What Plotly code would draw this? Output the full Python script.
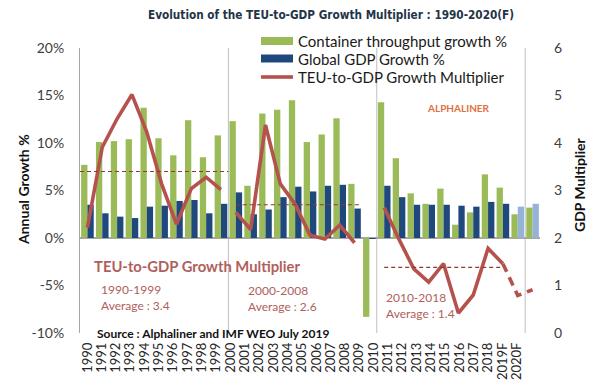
import plotly.graph_objects as go

# ---------------- data ----------------
years = ["1990", "1991", "1992", "1993", "1994", "1995", "1996", "1997", "1998", "1999",
         "2000", "2001", "2002", "2003", "2004", "2005", "2006", "2007", "2008", "2009",
         "2010", "2011", "2012", "2013", "2014", "2015", "2016", "2017", "2018", "2019F", "2020F"]

teu_growth = [7.7, 10.1, 10.2, 10.4, 13.7, 10.5, 8.7, 12.4, 8.5, 10.8,
              12.3, 5.5, 13.1, 13.5, 14.5, 10.1, 10.9, 12.6, 5.7, -8.3,
              14.3, 8.4, 4.7, 3.6, 5.2, 1.4, 2.7, 6.7, 5.3, 2.5, 3.2]

gdp_growth = [3.5, 2.6, 2.25, 2.1, 3.3, 3.4, 3.9, 4.0, 2.6, 3.6,
              4.8, 2.5, 3.0, 4.3, 5.4, 4.9, 5.5, 5.6, 3.1, -0.1,
              5.5, 4.3, 3.5, 3.5, 3.5, 3.4, 3.3, 3.8, 3.6, 3.3, 3.6]

multiplier = [2.22, 3.91, 4.51, 5.02, 4.23, 3.14, 2.29, 3.04, 3.28, 3.02,
              2.54, 2.18, 4.38, 3.14, 2.71, 2.06, 1.98, 2.27, 1.90, None,
              2.64, 1.97, 1.35, 1.07, 1.46, 0.42, 0.80, 1.78, 1.46, 0.79, 0.91]

periods = [("1990", "1999"), ("2000", "2008"), ("2010", "2018")]
period_avg_drawn = [3.4, 2.7, 1.38]
period_avg_label = ["3.4", "2.6", "1.4"]
forecast_segment = ("2018", "2020F")

left_ticks = [-10, -5, 0, 5, 10, 15, 20]
right_ticks = [0, 1, 2, 3, 4, 5, 6]

# ---------------- styles ----------------
GREEN = "#9bbb59"
DARK_BLUE = "#1f497d"
LIGHT_BLUE = "#95b3d7"
RED = "#b5524e"
AVG = "#8e3b36"
TXT_RED = "#b0605c"
FONT = "Lato, Carlito, 'Open Sans', sans-serif"
W, H = 593, 391
ML, MR, MT, MB = 80, 53, 48, 58
PW, PH = W - ML - MR, H - MT - MB


def px(xp):
    return (xp - ML) / PW


def py(yp):
    return (H - MB - yp) / PH


fig = go.Figure()

fig.add_trace(go.Bar(x=years, y=teu_growth, marker=dict(color=GREEN, line_width=0),
                     name="Container throughput growth %", showlegend=False,
                     hoverinfo="x+y"))
fig.add_trace(go.Bar(x=years, y=gdp_growth,
                     marker=dict(color=[LIGHT_BLUE if y.endswith("F") else DARK_BLUE for y in years],
                                 line_width=0),
                     name="Global GDP Growth %", showlegend=False, hoverinfo="x+y"))

# multiplier line segments by period
for (a, b) in periods:
    i0, i1 = years.index(a), years.index(b)
    fig.add_trace(go.Scatter(x=years[i0:i1 + 1], y=multiplier[i0:i1 + 1], yaxis="y2",
                             mode="lines", line=dict(color=RED, width=3.6),
                             showlegend=False, name="TEU-to-GDP Growth Multiplier"))
i0, i1 = years.index(forecast_segment[0]), years.index(forecast_segment[1])
fig.add_trace(go.Scatter(x=years[i0:i1 + 1], y=multiplier[i0:i1 + 1], yaxis="y2",
                         mode="lines", line=dict(color=RED, width=3.6, dash="9px,6px"),
                         showlegend=False, name="TEU-to-GDP Growth Multiplier (F)"))

# invisible carrier trace for the tick-label axis
fig.add_trace(go.Scatter(x=list(range(len(years))), y=[None] * len(years), xaxis="x2",
                         yaxis="y", mode="markers", showlegend=False, hoverinfo="skip"))

shapes = []
# period average dashed lines
avg_spans = [(-0.5, 0.5), (0.0, 0.3), (0.0, 0.0)]
for (a, b), v, (da, db) in zip(periods, period_avg_drawn, avg_spans):
    shapes.append(dict(type="line", xref="x", yref="y2",
                       x0=years.index(a) + da, x1=years.index(b) + db, y0=v, y1=v,
                       line=dict(color=AVG, width=1.2, dash="4px,3px")))
# separators every 10 categories
for k in (10, 20, 30):
    shapes.append(dict(type="line", xref="x", yref="paper", x0=k - 0.5, x1=k - 0.5,
                       y0=0, y1=1, line=dict(color="#bfbfbf", width=1), layer="below"))

# manual legend
leg_items = [("Container throughput growth %", GREEN, "rect", 41),
             ("Global GDP Growth %", DARK_BLUE, "rect", 58.5),
             ("TEU-to-GDP Growth Multiplier", RED, "line", 77)]
annotations = []
for text, col, kind, yc in leg_items:
    if kind == "rect":
        shapes.append(dict(type="rect", xref="paper", yref="paper",
                           x0=px(261), x1=px(293), y0=py(yc + 4), y1=py(yc - 4),
                           fillcolor=col, line_width=0))
    else:
        shapes.append(dict(type="line", xref="paper", yref="paper",
                           x0=px(261), x1=px(293), y0=py(yc), y1=py(yc),
                           line=dict(color=col, width=3.6)))
    annotations.append(dict(text=text, xref="paper", yref="paper", x=px(296), y=py(yc),
                            xanchor="left", yanchor="middle", showarrow=False,
                            font=dict(family=FONT, size=15, color="#1a1a1a")))


def ann(text, x, y, size, color, bold=False, xanchor="left", angle=0, family=FONT):
    t = f"<b>{text}</b>" if bold else text
    annotations.append(dict(text=t, xref="paper", yref="paper", x=px(x), y=py(y),
                            xanchor=xanchor, yanchor="middle", showarrow=False,
                            textangle=angle, font=dict(family=family, size=size, color=color)))


ann("Evolution of the TEU-to-GDP Growth Multiplier : 1990-2020(F)", 331, 15, 11.7, "#243447",
    bold=True, xanchor="center",
    family="'Liberation Sans Narrow', 'Arial Narrow', 'DejaVu Sans Condensed', sans-serif")
ann("TEU-to-GDP Growth Multiplier", 92, 266, 14.8, TXT_RED, bold=True)
label_pos = [(99, 289, 305), (246, 290, 306), (384, 297, 313)]
for (a, b), lab, (lx, ly1, ly2) in zip(periods, period_avg_label, label_pos):
    ann(f"{a}-{b}", lx, ly1, 12, TXT_RED)
    ann(f"Average : {lab}", lx, ly2, 12, TXT_RED)
ann("ALPHALINER", 458, 108, 10, "#e0703f", bold=True, xanchor="center")
ann("Source : Alphaliner and IMF WEO July 2019", 95, 333, 12, "#111111", bold=True)
ann("Annual Growth %", 23, 190, 14, "#111111", bold=True, xanchor="center", angle=-90)
ann("GDP Multiplier", 579, 185, 14, "#111111", bold=True, xanchor="center", angle=-90)

# label axis geometry: first label centre at 87.3 px, last at 516.7 px
lab_first, lab_last = 87.3, 516.7
scale = (lab_last - lab_first) / (len(years) - 1)
r0 = -(lab_first - ML) / scale
r1 = r0 + PW / scale

fig.update_layout(
    width=W, height=H,
    margin=dict(l=ML, r=MR, t=MT, b=MB, autoexpand=False),
    paper_bgcolor="white", plot_bgcolor="white",
    barmode="group", bargap=0.15, bargroupgap=0,
    showlegend=False,
    font=dict(family=FONT, color="#404040"),
    xaxis=dict(type="category", categoryorder="array", categoryarray=years,
               range=[-0.5, len(years) - 0.5], showticklabels=False, showgrid=False,
               zeroline=False, showline=False, ticks="", automargin=False),
    xaxis2=dict(type="linear", overlaying="x", anchor="y", side="bottom",
                range=[r0, r1], tickmode="array", tickvals=list(range(len(years))),
                ticktext=years, tickangle=-90, showgrid=False, zeroline=False,
                showline=False, ticks="", tickfont=dict(family=FONT, size=13, color="#262626"),
                ticklabelstandoff=6, automargin=False),
    yaxis=dict(range=[-10, 20], tickmode="array", tickvals=left_ticks,
               ticktext=[f"{v}%" for v in left_ticks], showgrid=False,
               zeroline=True, zerolinecolor="#a6a6a6", zerolinewidth=1.5,
               showline=True, linecolor="#a6a6a6", linewidth=1, ticks="",
               tickfont=dict(family=FONT, size=14, color="#404040"), ticklabelstandoff=12,
               automargin=False),
    yaxis2=dict(range=[0, 6], tickmode="array", tickvals=right_ticks, overlaying="y",
                side="right", showgrid=False, zeroline=False, showline=False, ticks="",
                tickfont=dict(family=FONT, size=14, color="#404040"), ticklabelstandoff=13,
                automargin=False),
    shapes=shapes,
    annotations=annotations,
)

fig.write_html("out.html", config={"displayModeBar": False},
               post_script="document.body.style.margin='0px';document.body.style.overflow='hidden';")
